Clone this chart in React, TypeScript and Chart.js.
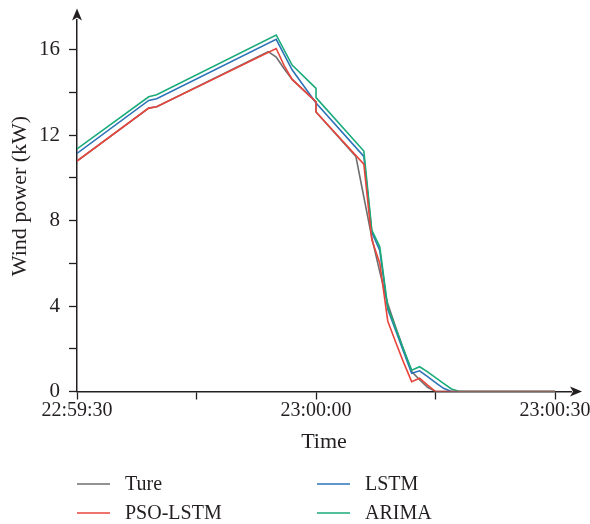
import React, { useEffect, useRef } from "react";
import { Chart, registerables } from "chart.js";

Chart.register(...registerables);

// ---- data (seconds after 22:59:30, power in kW) ----
const trueTimes = [0, 9, 10, 24, 25, 26, 27, 30, 30, 35, 36, 37, 38, 39, 40, 41, 42, 43, 44, 45, 60];
const trueValues = [10.78, 13.26, 13.32, 15.9, 15.65, 15.1, 14.6, 13.55, 13.08, 11.0, 9.1, 7.2, 5.6, 4.1, 3.0, 1.95, 0.93, 0.55, 0.2, 0, 0];

const psoTimes = [0, 9, 10, 25, 26, 27, 30, 30, 36, 37, 38, 39, 40, 41, 42, 43, 44, 45, 60];
const psoValues = [10.78, 13.26, 13.32, 16.05, 15.25, 14.6, 13.55, 13.08, 10.64, 7.1, 6.0, 3.3, 2.3, 1.35, 0.46, 0.62, 0.3, 0, 0];

const lstmTimes = [0, 9, 10, 25, 27, 30, 36, 37, 38, 39, 40, 41, 42, 43, 44, 45, 46, 47, 60];
const lstmValues = [11.14, 13.62, 13.7, 16.48, 15.05, 13.5, 11.0, 7.45, 6.6, 3.85, 2.85, 1.85, 0.85, 0.97, 0.7, 0.42, 0.15, 0, 0];

const arimaTimes = [0, 9, 10, 25, 27, 30, 30, 36, 37, 38, 39, 40, 41, 42, 43, 44, 45, 46, 47, 48, 60];
const arimaValues = [11.35, 13.79, 13.88, 16.68, 15.27, 14.18, 13.75, 11.25, 7.55, 6.77, 3.95, 2.95, 1.95, 1.0, 1.16, 0.92, 0.65, 0.38, 0.12, 0, 0];

const seriesLabels = ["Ture", "PSO-LSTM", "LSTM", "ARIMA"];
const seriesColors = ["#6e6e6e", "#e8453c", "#2e73b8", "#1aab7a"];

const xTickValues = [0, 15, 30, 45, 60];
const xTickLabels = ["22:59:30", "", "23:00:00", "", "23:00:30"];
const yTickValues = [0, 2, 4, 6, 8, 10, 12, 14, 16];
const yLabelStep = 4;

const xAxisTitle = "Time";
const yAxisTitle = "Wind power (kW)";

const FONT = "'Liberation Serif', 'DejaVu Serif', serif";
const INK = "#231f20";

function toPoints(times: number[], values: number[]) {
  return times.map((t, i) => ({ x: t, y: values[i] }));
}

const arrowPlugin = {
  id: "axisArrows",
  afterDraw(chart: any) {
    const { ctx, chartArea } = chart;
    const { left, right, top, bottom } = chartArea;
    ctx.save();
    ctx.fillStyle = INK;
    ctx.beginPath();
    ctx.moveTo(left, top - 11);
    ctx.lineTo(left + 5, top + 1);
    ctx.lineTo(left, top - 2);
    ctx.lineTo(left - 5, top + 1);
    ctx.closePath();
    ctx.fill();
    ctx.beginPath();
    ctx.moveTo(right + 11, bottom);
    ctx.lineTo(right - 1, bottom - 5);
    ctx.lineTo(right + 2, bottom);
    ctx.lineTo(right - 1, bottom + 5);
    ctx.closePath();
    ctx.fill();
    // y-axis title
    ctx.save();
    ctx.translate(20, 196);
    ctx.rotate(-Math.PI / 2);
    ctx.font = `22px ${FONT}`;
    ctx.textAlign = "center";
    ctx.textBaseline = "middle";
    ctx.fillText(yAxisTitle, 0, 0);
    ctx.restore();
    ctx.restore();
  },
};

// legend: 2 columns x 2 rows (column-major)
const legendSlots = [
  [0, 0],
  [0, 1],
  [1, 0],
  [1, 1],
];
const gridLegendPlugin = {
  id: "gridLegend",
  afterDraw(chart: any) {
    const ctx = chart.ctx;
    const colX = [77, 317];
    const rowY = [484, 513];
    ctx.save();
    ctx.font = `20px ${FONT}`;
    ctx.textBaseline = "middle";
    ctx.textAlign = "left";
    chart.data.datasets.forEach((ds: any) => {
      const slot = legendSlots[ds.legendIndex];
      const x = colX[slot[0]];
      const y = rowY[slot[1]];
      ctx.strokeStyle = ds.borderColor;
      ctx.lineWidth = 1.6;
      ctx.beginPath();
      ctx.moveTo(x, y);
      ctx.lineTo(x + 33, y);
      ctx.stroke();
      ctx.fillStyle = INK;
      ctx.fillText(ds.label, x + 48, y + 1);
    });
    ctx.restore();
  },
};

export default function App() {
  const ref = useRef<HTMLCanvasElement | null>(null);

  useEffect(() => {
    document.body.style.margin = "0";
    if (!ref.current) return;
    const series = [
      { times: trueTimes, values: trueValues },
      { times: psoTimes, values: psoValues },
      { times: lstmTimes, values: lstmValues },
      { times: arimaTimes, values: arimaValues },
    ];
    const drawOrder = [3, 0, 2, 1]; // lower = on top
    const datasets = series.map((s, i) => ({
      label: seriesLabels[i],
      data: toPoints(s.times, s.values),
      borderColor: seriesColors[i],
      backgroundColor: seriesColors[i],
      borderWidth: 1.6,
      pointRadius: 0,
      tension: 0,
      fill: false,
      order: drawOrder[i],
      legendIndex: i,
    }));

    const chart = new Chart(ref.current, {
      type: "line",
      data: { datasets: datasets as any },
      options: {
        animation: false,
        responsive: true,
        maintainAspectRatio: false,
        layout: { padding: { left: 0, top: 19.6, right: 19, bottom: 62.5 } },
        plugins: {
          legend: { display: false },
          tooltip: { enabled: false },
        },
        scales: {
          x: {
            type: "linear",
            min: 0,
            max: 62,
            afterBuildTicks: (scale: any) => {
              scale.ticks = xTickValues.map((v) => ({ value: v }));
            },
            afterFit: (scale: any) => {
              scale.height = 70;
              scale.paddingLeft = 0;
              scale.paddingRight = 0;
            },
            ticks: {
              autoSkip: false,
              maxRotation: 0,
              padding: 1,
              color: INK,
              font: { family: FONT, size: 20, lineHeight: 1 },
              callback: (v: any) => {
                const idx = xTickValues.indexOf(Number(v));
                return idx >= 0 ? xTickLabels[idx] : "";
              },
            },
            grid: {
              drawOnChartArea: false,
              drawTicks: true,
              tickLength: 8,
              tickColor: INK,
              tickWidth: 1.3,
            },
            border: { display: true, color: INK, width: 1.5 },
            title: {
              display: true,
              text: xAxisTitle,
              color: INK,
              font: { family: FONT, size: 22, lineHeight: 1.2 },
              padding: { top: 0, bottom: 6 },
            },
          },
          y: {
            type: "linear",
            min: 0,
            max: 17.4,
            afterBuildTicks: (scale: any) => {
              scale.ticks = yTickValues.map((v) => ({ value: v }));
            },
            afterFit: (scale: any) => {
              scale.width = 77;
              scale.paddingTop = 0;
              scale.paddingBottom = 0;
            },
            ticks: {
              autoSkip: false,
              padding: 9,
              color: INK,
              font: { family: FONT, size: 21 },
              callback: (v: any) => (Number(v) % yLabelStep === 0 ? String(v) : ""),
            },
            grid: {
              drawOnChartArea: false,
              drawTicks: true,
              tickLength: 8,
              tickColor: INK,
              tickWidth: 1.3,
            },
            border: { display: true, color: INK, width: 1.5 },
            title: { display: false },
          },
        },
      },
      plugins: [arrowPlugin, gridLegendPlugin],
    });
    return () => chart.destroy();
  }, []);

  return (
    <div style={{ position: "relative", width: 590, height: 524 }}>
      <canvas ref={ref} />
    </div>
  );
}
